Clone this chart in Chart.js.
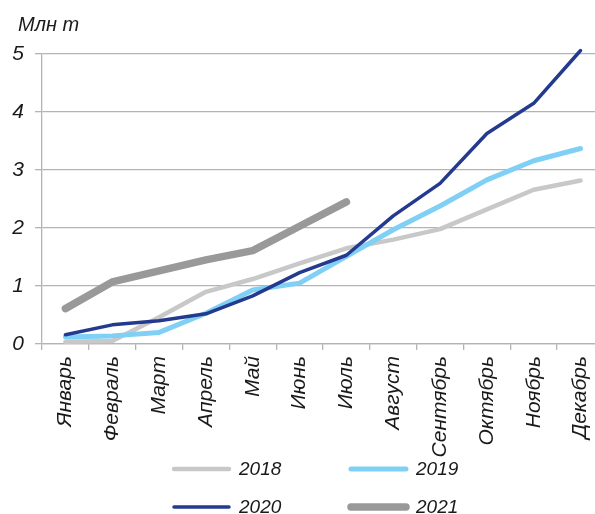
<!DOCTYPE html>
<html>
<head>
<meta charset="utf-8">
<script src="https://cdn.jsdelivr.net/npm/chart.js@4"></script>
<style>
  html, body { margin: 0; padding: 0; background: #fff; overflow: hidden; }
  #wrap { width: 612px; height: 514px; }
</style>
</head>
<body>
<div id="wrap"><canvas id="myChart" width="612" height="514"></canvas></div>
<script>
var months = ['Январь', 'Февраль', 'Март', 'Апрель', 'Май', 'Июнь', 'Июль',
              'Август', 'Сентябрь', 'Октябрь', 'Ноябрь', 'Декабрь'];
var years = ['2018', '2019', '2020', '2021'];
var v2018 = [0.04, 0.05, 0.46, 0.90, 1.12, 1.39, 1.65, 1.80, 1.98, 2.32, 2.66, 2.82];
var v2019 = [0.12, 0.14, 0.20, 0.53, 0.93, 1.05, 1.51, 1.97, 2.38, 2.83, 3.16, 3.37];
var v2020 = [0.16, 0.33, 0.40, 0.52, 0.83, 1.23, 1.53, 2.21, 2.77, 3.63, 4.15, 5.06];
var v2021 = [0.61, 1.07, 1.26, 1.45, 1.61, 2.03, 2.45];
var yMin = 0, yMax = 5, yStep = 1;
var unitLabel = 'Млн т';

var colors = ['#c8c8c8', '#7fd0f4', '#233a8e', '#999999'];
var widths = [4.5, 5, 3.5, 7.5];
var values = [v2018, v2019, v2020, v2021];

var fontFamily = '"Liberation Sans", Arial, sans-serif';
var gridColor = '#b4b4b4';
var textColor = '#1a1a1a';

// unit caption at the top left and a two-column legend under the axis
var extras = {
  id: 'extras',
  afterDraw: function(chart) {
    var c = chart.ctx;
    c.save();
    c.fillStyle = textColor;
    c.textBaseline = 'middle';
    c.textAlign = 'left';
    c.font = 'italic 20px ' + fontFamily;
    c.fillText(unitLabel, 18, 25);

    c.font = 'italic 19px ' + fontFamily;
    var colX = [171, 348], rowY = [469, 507];
    chart.data.datasets.forEach(function(ds, i) {
      var x = colX[i % 2], y = rowY[Math.floor(i / 2)];
      c.strokeStyle = ds.borderColor;
      c.lineWidth = ds.borderWidth;
      c.lineCap = 'round';
      c.beginPath();
      c.moveTo(x + 3, y);
      c.lineTo(x + 58, y);
      c.stroke();
      c.fillText(ds.label, x + 68, y + 1);
    });
    c.restore();
  }
};

var ctx = document.getElementById('myChart').getContext('2d');
var chart = new Chart(ctx, {
    type: 'line',
    data: {
        labels: months,
        datasets: years.map(function(y, i) {
            return {
                label: y,
                data: values[i],
                borderColor: colors[i],
                backgroundColor: colors[i],
                borderWidth: widths[i],
                borderCapStyle: 'round',
                borderJoinStyle: 'round',
                pointRadius: 0,
                tension: 0,
                fill: false,
                clip: false,
                order: 4 - i
            };
        })
    },
    options: {
        responsive: false,
        animation: false,
        layout: { padding: { top: 54, right: 6, left: 0, bottom: 0 } },
        plugins: {
            legend: { display: false },
            title: { display: false },
            tooltip: { enabled: false }
        },
        scales: {
            x: {
                offset: true,
                grid: {
                    offset: true,
                    drawOnChartArea: false,
                    color: gridColor,
                    lineWidth: 1.3,
                    tickLength: 6
                },
                border: { color: gridColor, width: 1.3 },
                ticks: {
                    minRotation: 90,
                    maxRotation: 90,
                    autoSkip: false,
                    padding: 6,
                    color: textColor,
                    font: { family: fontFamily, size: 21, style: 'italic' }
                },
                afterFit: function(s) { s.height = 170; }
            },
            y: {
                min: yMin,
                max: yMax,
                grid: { color: gridColor, lineWidth: 1.3, tickLength: 7 },
                border: { color: gridColor, width: 1.3 },
                ticks: {
                    stepSize: yStep,
                    padding: 11,
                    color: textColor,
                    font: { family: fontFamily, size: 21, style: 'italic' }
                },
                afterFit: function(s) { s.width = 42; }
            }
        }
    },
    plugins: [extras]
});
</script>
</body>
</html>
